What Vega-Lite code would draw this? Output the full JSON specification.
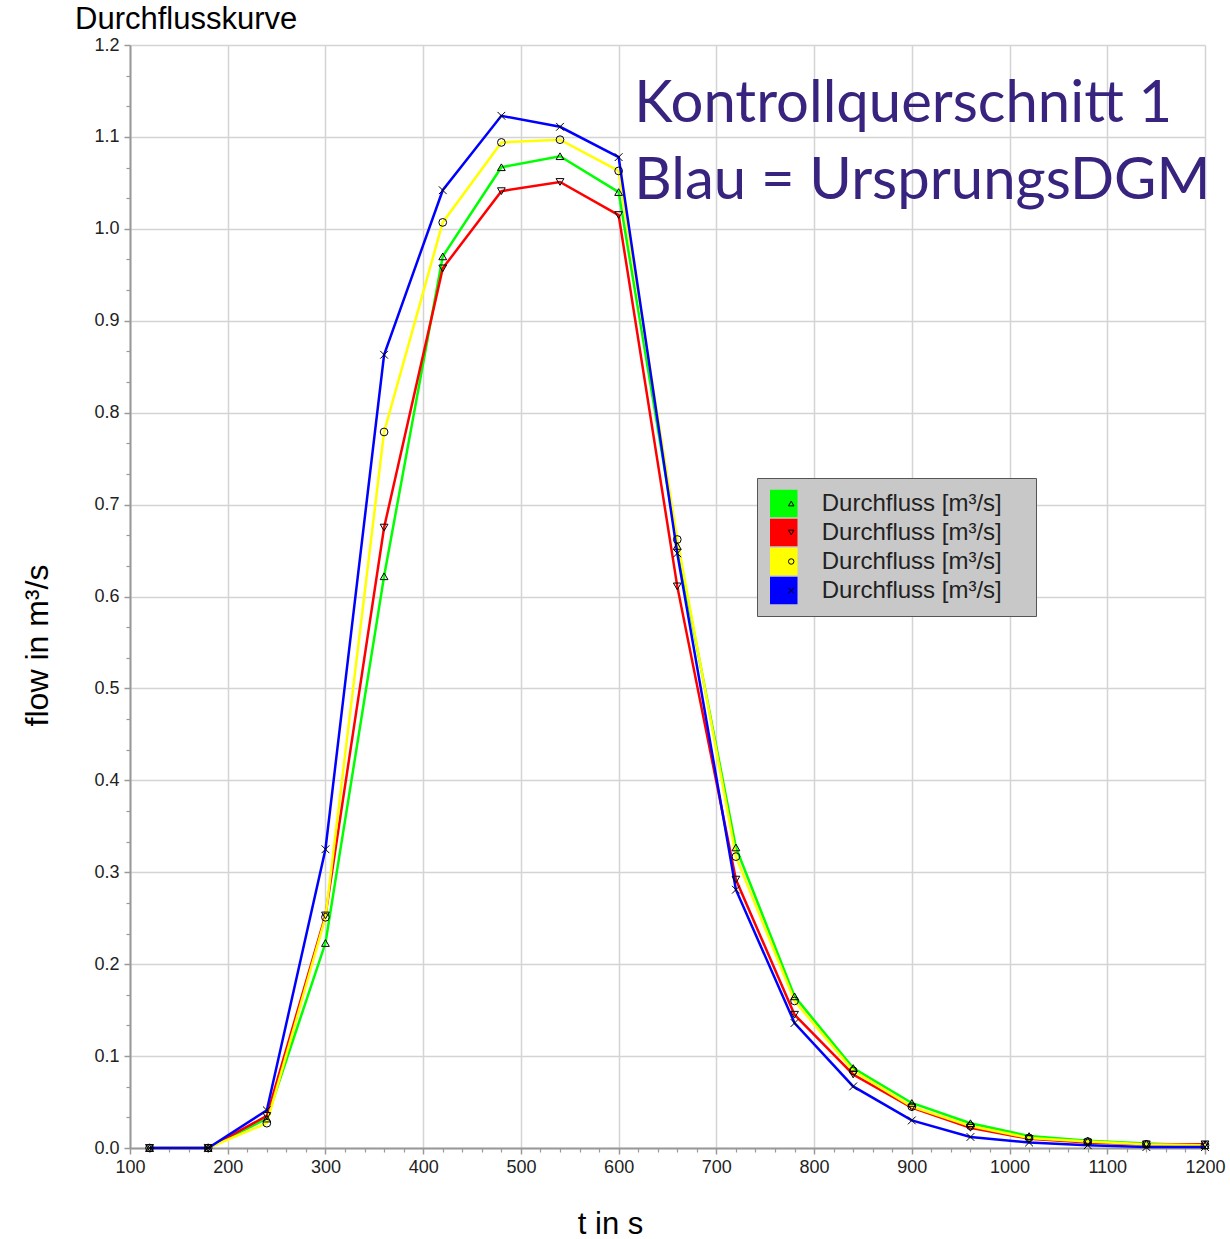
{
  "$schema": "https://vega.github.io/schema/vega-lite/v6.json",
  "width": 1075,
  "height": 1103,
  "autosize": {"type": "none"},
  "padding": {"left": 130, "top": 45, "right": 25, "bottom": 91},
  "background": "white",
  "config": {"view": {"stroke": null}, "font": "Liberation Sans"},
  "title": {"text": "Durchflusskurve", "anchor": "start", "frame": "group", "dx": -55, "dy": 38, "offset": 14, "fontSize": 31, "font": "Liberation Sans", "fontWeight": "normal", "color": "#000000", "baseline": "alphabetic"},
  "resolve": {"axis": {"x": "independent", "y": "independent"}},
  "datasets": {
    "flow": [
      {"t": 120, "a_gruen": 0, "b_rot": 0, "c_gelb": 0, "d_blau": 0},
      {"t": 180, "a_gruen": 0, "b_rot": 0, "c_gelb": 0, "d_blau": 0},
      {"t": 240, "a_gruen": 0.032, "b_rot": 0.035, "c_gelb": 0.027, "d_blau": 0.041},
      {"t": 300, "a_gruen": 0.223, "b_rot": 0.253, "c_gelb": 0.251, "d_blau": 0.325},
      {"t": 360, "a_gruen": 0.622, "b_rot": 0.675, "c_gelb": 0.779, "d_blau": 0.863},
      {"t": 420, "a_gruen": 0.970, "b_rot": 0.957, "c_gelb": 1.007, "d_blau": 1.042},
      {"t": 480, "a_gruen": 1.067, "b_rot": 1.041, "c_gelb": 1.094, "d_blau": 1.123},
      {"t": 540, "a_gruen": 1.079, "b_rot": 1.051, "c_gelb": 1.097, "d_blau": 1.111},
      {"t": 600, "a_gruen": 1.040, "b_rot": 1.015, "c_gelb": 1.063, "d_blau": 1.078},
      {"t": 660, "a_gruen": 0.655, "b_rot": 0.611, "c_gelb": 0.662, "d_blau": 0.647},
      {"t": 720, "a_gruen": 0.327, "b_rot": 0.292, "c_gelb": 0.317, "d_blau": 0.281},
      {"t": 780, "a_gruen": 0.165, "b_rot": 0.145, "c_gelb": 0.160, "d_blau": 0.136},
      {"t": 840, "a_gruen": 0.087, "b_rot": 0.080, "c_gelb": 0.084, "d_blau": 0.067},
      {"t": 900, "a_gruen": 0.049, "b_rot": 0.044, "c_gelb": 0.045, "d_blau": 0.030},
      {"t": 960, "a_gruen": 0.027, "b_rot": 0.022, "c_gelb": 0.024, "d_blau": 0.012},
      {"t": 1020, "a_gruen": 0.013, "b_rot": 0.010, "c_gelb": 0.011, "d_blau": 0.006},
      {"t": 1080, "a_gruen": 0.008, "b_rot": 0.006, "c_gelb": 0.007, "d_blau": 0.003},
      {"t": 1140, "a_gruen": 0.005, "b_rot": 0.004, "c_gelb": 0.004, "d_blau": 0.001},
      {"t": 1200, "a_gruen": 0.003, "b_rot": 0.004, "c_gelb": 0.003, "d_blau": 0.001}
    ],
    "notes": [
      {"t": 616, "q": 1.116, "label": "Kontrollquerschnitt 1"},
      {"t": 616, "q": 1.033, "label": "Blau = UrsprungsDGM"}
    ]
  },
  "layer": [
    {
      "data": {"name": "flow"},
      "transform": [{"fold": ["a_gruen", "b_rot", "c_gelb", "d_blau"], "as": ["series", "q"]}],
      "mark": {"type": "line", "strokeWidth": 2.5},
      "encoding": {
        "x": {
          "field": "t", "type": "quantitative",
          "scale": {"domain": [100, 1200], "nice": false, "zero": false},
          "axis": {
            "orient": "bottom",
            "values": [100, 200, 300, 400, 500, 600, 700, 800, 900, 1000, 1100, 1200],
            "format": "d",
            "grid": true, "gridColor": "#d4d4d4", "gridWidth": 1.5,
            "domainColor": "#999999", "domainWidth": 2,
            "tickColor": "#999999", "tickSize": 6, "tickWidth": 1.5,
            "labelFontSize": 18, "labelColor": "#222222", "labelPadding": 4, "labelFlush": false, "labelFont": "Liberation Sans",
            "title": "t in s", "titleFontSize": 31, "titleFontWeight": "normal", "titleColor": "#000000", "titleFont": "Liberation Sans",
            "titleX": 480, "titleY": 85, "titleBaseline": "alphabetic", "titleAlign": "center"
          }
        },
        "y": {
          "field": "q", "type": "quantitative",
          "scale": {"domain": [0, 1.2], "nice": false},
          "axis": {
            "orient": "left",
            "values": [0, 0.1, 0.2, 0.3, 0.4, 0.5, 0.6, 0.7, 0.8, 0.9, 1.0, 1.1, 1.2],
            "format": ".1f",
            "grid": true, "gridColor": "#d4d4d4", "gridWidth": 1.5,
            "domainColor": "#999999", "domainWidth": 2,
            "tickColor": "#999999", "tickSize": 6, "tickWidth": 1.5,
            "labelFontSize": 18, "labelColor": "#222222", "labelPadding": 5, "labelFlush": false, "labelFont": "Liberation Sans",
            "title": "flow in m³/s", "titleFontSize": 32, "titleFontWeight": "normal", "titleColor": "#000000", "titleFont": "Liberation Sans",
            "titleX": -83, "titleY": 600, "titleAngle": -90, "titleBaseline": "alphabetic", "titleAlign": "center"
          }
        },
        "color": {
          "field": "series", "type": "nominal",
          "scale": {"range": ["#00ff00", "#ff0000", "#ffff00", "#0000ff"]},
          "legend": {
            "orient": "none", "legendX": 627, "legendY": 433,
            "title": ".", "titleOrient": "right", "titleColor": "transparent", "titleFontSize": 24, "titlePadding": 16,
            "symbolType": "square", "symbolSize": 676, "symbolStrokeColor": "black", "symbolStrokeWidth": 1.5,
            "symbolOffset": 1.75, "padding": 11, "clipHeight": 29, "rowPadding": 0, "labelOffset": 24,
            "labelFontSize": 24, "labelColor": "#222222", "labelFont": "Liberation Sans", "labelLimit": 400,
            "fillColor": "#c8c8c8", "strokeColor": "#555555",
            "labelExpr": "'Durchfluss [m³/s]'",
            "encode": {"symbols": {"update": {"fill": {"scale": "color", "field": "value"}, "stroke": {"value": "#000000"}, "strokeWidth": {"value": 1.5}, "opacity": {"value": 1}}}}
          }
        }
      }
    },
    {
      "data": {"name": "flow"},
      "transform": [{"fold": ["a_gruen", "b_rot", "c_gelb", "d_blau"], "as": ["marker", "q"]}],
      "mark": {"type": "point", "filled": false, "color": "black", "strokeWidth": 1, "size": 60, "opacity": 1},
      "encoding": {
        "x": {"field": "t", "type": "quantitative", "axis": null},
        "y": {"field": "q", "type": "quantitative", "axis": null},
        "shape": {
          "field": "marker", "type": "nominal",
          "scale": {"range": ["triangle-up", "triangle-down", "circle", "M-1,-1L1,1M-1,1L1,-1"]},
          "legend": {
            "orient": "none", "legendX": 627, "legendY": 433, "title": null,
            "padding": 11, "clipHeight": 29, "rowPadding": 0,
            "symbolSize": 30, "symbolOffset": 12.2, "symbolStrokeColor": "black", "symbolFillColor": "transparent", "symbolStrokeWidth": 1,
            "labelFontSize": 22, "labelOffset": 24,
            "fillColor": "transparent", "strokeColor": "transparent",
            "labelExpr": "''"
          }
        }
      }
    },
    {
      "data": {"name": "notes"},
      "mark": {"type": "text", "align": "left", "baseline": "alphabetic", "font": "Lato", "fontSize": 58, "color": "#38237f"},
      "encoding": {
        "x": {
          "field": "t", "type": "quantitative",
          "axis": {
            "orient": "bottom",
            "values": [120, 140, 160, 180, 220, 240, 260, 280, 320, 340, 360, 380, 420, 440, 460, 480, 520, 540, 560, 580, 620, 640, 660, 680, 720, 740, 760, 780, 820, 840, 860, 880, 920, 940, 960, 980, 1020, 1040, 1060, 1080, 1120, 1140, 1160, 1180],
            "labels": false, "grid": false, "domain": false, "title": null,
            "tickColor": "#999999", "tickSize": 4, "tickWidth": 1.2
          }
        },
        "y": {
          "field": "q", "type": "quantitative",
          "axis": {
            "orient": "left",
            "values": [0.0333, 0.0667, 0.1333, 0.1667, 0.2333, 0.2667, 0.3333, 0.3667, 0.4333, 0.4667, 0.5333, 0.5667, 0.6333, 0.6667, 0.7333, 0.7667, 0.8333, 0.8667, 0.9333, 0.9667, 1.0333, 1.0667, 1.1333, 1.1667],
            "labels": false, "grid": false, "domain": false, "title": null,
            "tickColor": "#999999", "tickSize": 4, "tickWidth": 1.2
          }
        },
        "text": {"field": "label"}
      }
    }
  ]
}
